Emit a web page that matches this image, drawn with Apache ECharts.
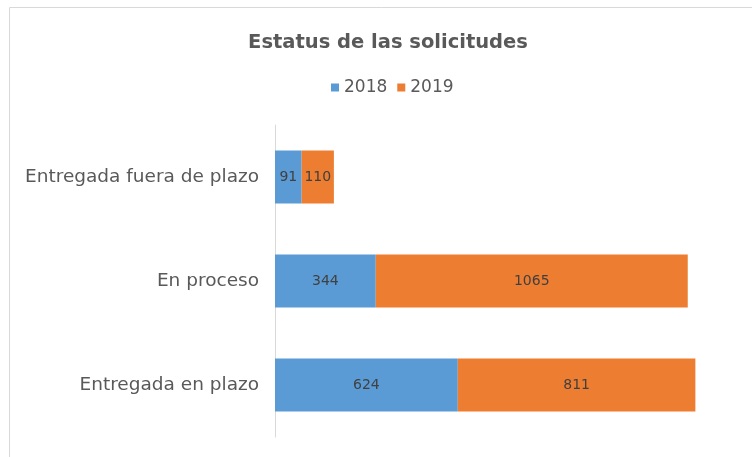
<!DOCTYPE html>
<html>
<head>
<meta charset="utf-8">
<script src="https://cdn.jsdelivr.net/npm/echarts@6/dist/echarts.min.js"></script>
<style>
  html, body { margin: 0; padding: 0; background: #fff; }
  #main { width: 752px; height: 457px; }
</style>
</head>
<body>
<div id="main"></div>
<script>
var categories = ['Entregada en plazo', 'En proceso', 'Entregada fuera de plazo'];
var values2018 = [624, 344, 91];
var values2019 = [811, 1065, 110];
var seriesNames = ['2018', '2019'];

var chartDom = document.getElementById('main');
var myChart = echarts.init(chartDom);
var option;

var fontFam = '"DejaVu Sans", sans-serif';
var barLabel = {
    show: true,
    position: 'inside',
    color: '#404040',
    fontSize: 14,
    fontFamily: fontFam
};

option = {
    backgroundColor: '#fff',
    textStyle: { fontFamily: fontFam },
    graphic: [
        {
            type: 'rect',
            shape: { x: 9.5, y: 7.5, width: 800, height: 460 },
            style: { fill: 'none', stroke: '#d9d9d9', lineWidth: 1 },
            silent: true
        }
    ],
    title: {
        text: 'Estatus de las solicitudes',
        left: 383,
        top: 28,
        textAlign: 'center',
        textStyle: {
            color: '#595959',
            fontSize: 19.5,
            fontWeight: 'bold',
            fontFamily: fontFam
        }
    },
    legend: {
        data: seriesNames,
        left: 326,
        top: 74,
        icon: 'rect',
        itemWidth: 8,
        itemHeight: 8,
        itemGap: 10,
        textStyle: { color: '#595959', fontSize: 17, fontFamily: fontFam }
    },
    grid: {
        left: 275,
        top: 125,
        bottom: 20,
        width: 468.7,
        containLabel: false
    },
    xAxis: {
        type: 'value',
        min: 0,
        max: 1600,
        show: false
    },
    yAxis: {
        type: 'category',
        data: categories,
        axisLine: { show: true, lineStyle: { color: '#d9d9d9' } },
        axisTick: { show: false },
        axisLabel: { color: '#595959', fontSize: 18.5, margin: 16, fontFamily: fontFam },
        splitLine: { show: false }
    },
    series: [
        {
            name: seriesNames[0],
            type: 'bar',
            stack: 'total',
            data: values2018,
            barCategoryGap: '49%',
            itemStyle: { color: '#5b9bd5' },
            label: barLabel
        },
        {
            name: seriesNames[1],
            type: 'bar',
            stack: 'total',
            data: values2019,
            barCategoryGap: '49%',
            itemStyle: { color: '#ed7d31' },
            label: barLabel
        }
    ]
};

option && myChart.setOption(option);
</script>
</body>
</html>
